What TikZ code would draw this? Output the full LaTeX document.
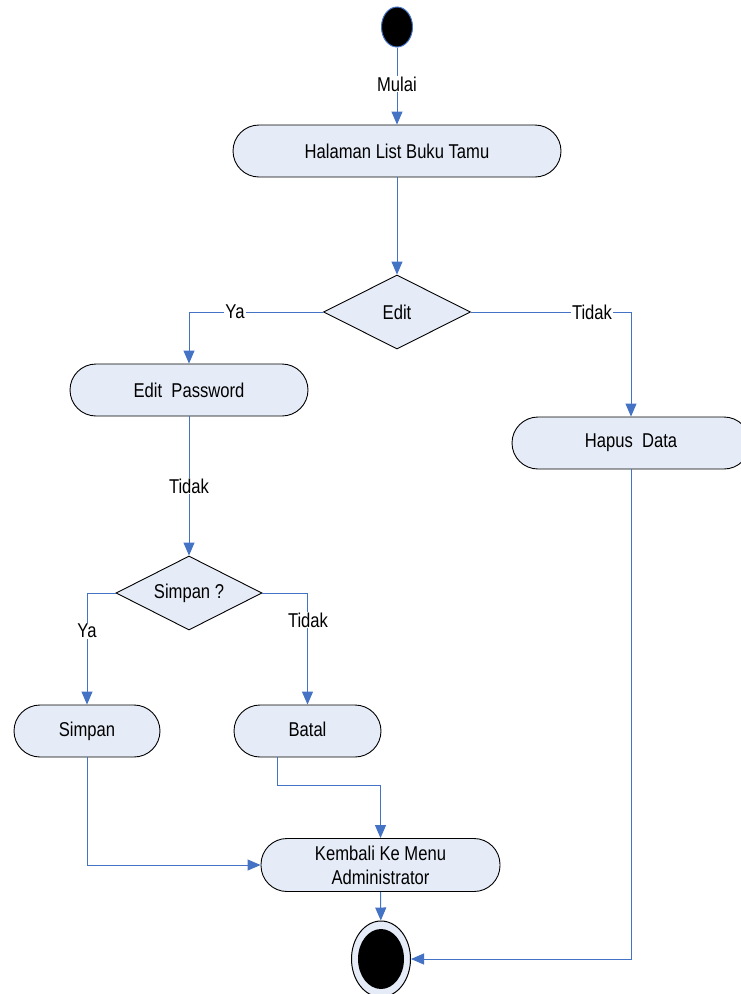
\documentclass[tikz,border=0pt]{standalone}
\usepackage{fontspec}
\setmainfont{Liberation Sans}[FakeStretch=0.83]
\usetikzlibrary{arrows.meta,shapes.geometric}
\definecolor{boxfill}{RGB}{230,236,247}
\definecolor{linecol}{RGB}{68,114,196}
\begin{document}
\begin{tikzpicture}[x=1pt,y=-1pt,font=\fontsize{20}{24}\selectfont,
  act/.style={draw=black,fill=boxfill,rounded corners=26pt,minimum height=52pt,line width=0.9pt,inner sep=0pt,align=center},
  dec/.style={draw=black,fill=boxfill,diamond,aspect=2,inner sep=0pt,line width=0.9pt,minimum height=74pt},
  conn/.style={draw=linecol,line width=1pt,-{Triangle[length=13pt,width=11pt]}},
  lbl/.style={fill=white,inner sep=1pt}]
\useasboundingbox (0,0) rectangle (740,994);
\node[ellipse,fill=black,draw=linecol,line width=1pt,minimum width=31pt,minimum height=40pt,inner sep=0pt] (start) at (397,27) {};
\node[act,minimum width=328pt] (halaman) at (397,151) {Halaman List Buku Tamu};
\node[dec,minimum width=147pt] (edit) at (397,312) {Edit};
\node[act,minimum width=238pt] (editpw) at (189,390) {Edit~~Password};
\node[act,minimum width=238pt] (hapus) at (631,443) {Hapus~~Data};
\node[dec,minimum width=146pt] (simpanq) at (189,593) {Simpan ?};
\node[act,minimum width=146pt,text height=14pt,text depth=4pt] (simpan) at (87,731) {Simpan};
\node[act,minimum width=147pt,text height=14pt,text depth=4pt] (batal) at (307.5,731) {Batal};
\node[act,minimum width=239pt,minimum height=53pt] (kembali) at (380.5,865) {Kembali Ke Menu\\Administrator};
\node[ellipse,fill=boxfill,draw=black,line width=1pt,minimum width=59pt,minimum height=76pt,inner sep=0pt] (end) at (381,959) {};
\node[ellipse,fill=black,minimum width=46pt,minimum height=60pt,inner sep=0pt] (endin) at (end.center) {};

\draw[conn] (start) -- (halaman);
\node[lbl] (lmulai) at (397,84) {Mulai};
\draw[conn] (halaman) -- (edit);
\draw[conn] (edit.west) -| (editpw.north);
\node[lbl] (lya1) at (235,312) {Ya};
\draw[conn] (edit.east) -| (hapus.north);
\node[lbl] (ltidak1) at (592,312) {Tidak};
\draw[conn] (editpw) -- (simpanq);
\node[lbl] (ltidak2) at (189,486) {Tidak};
\draw[conn] (simpanq.west) -| (simpan.north);
\node[lbl] (lya2) at (87,631) {Ya};
\draw[conn] (simpanq.east) -| (batal.north);
\node[lbl] (ltidak3) at (308,620) {Tidak};
\draw[conn] (simpan.south) |- (kembali.west);
\draw[conn] ([xshift=-30pt]batal.south) -- ++(0,28) -| (kembali.north);
\draw[conn] (kembali) -- (end);
\draw[conn] (hapus.south) |- (end.east);
\end{tikzpicture}
\end{document}
